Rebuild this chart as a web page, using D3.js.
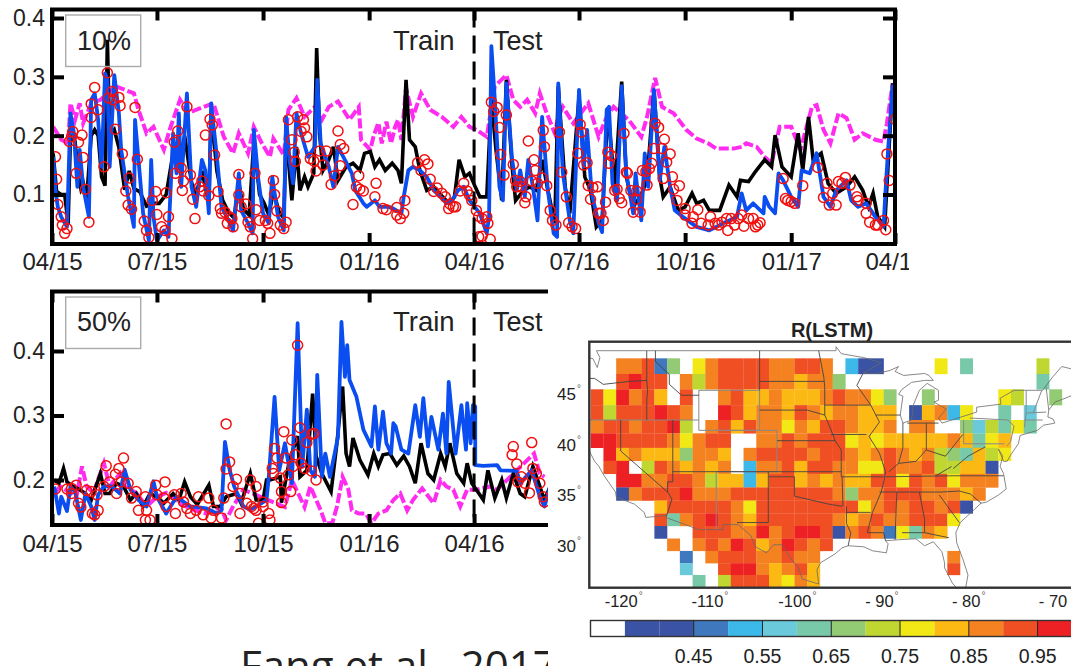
<!DOCTYPE html>
<html><head><meta charset="utf-8">
<script src="https://cdn.jsdelivr.net/npm/d3@7"></script>
<style>html,body{margin:0;padding:0;background:#fff;overflow:hidden}svg{display:block}text{font-family:"Liberation Sans",Arial,sans-serif;fill:#222}</style>
</head><body><svg id="c" width="1071" height="666"></svg>
<script>
// ---------- time-series data: [day since 04/15, value] ----------
const tickDays=[0,91,183,275,366,457,549,641,731];
const tickLabels=["04/15","07/15","10/15","01/16","04/16","07/16","10/16","01/17","04/17"];
const blueTop=[[1,.164],[3,.107],[5,.079],[8,.062],[13,.045],[16,.238],[19,.204],[22,.113],[24,.176],[27,.113],[32,.062],[34,.261],[37,.272],[40,.227],[43,.147],[46,.306],[48,.295],[50,.147],[54,.303],[58,.238],[60,.176],[66,.096],[71,.045],[72,.227],[75,.159],[79,.068],[84,.022],[86,.159],[88,.062],[91,.022],[97,.039],[101,.028],[105,.204],[108,.136],[110,.238],[112,.113],[117,.272],[121,.113],[125,.079],[130,.159],[133,.141],[136,.068],[138,.255],[143,.164],[147,.079],[153,.056],[157,.039],[162,.136],[164,.073],[170,.051],[174,.034],[175,.21],[179,.124],[183,.068],[188,.051],[191,.13],[196,.062],[201,.039],[203,.232],[206,.159],[209,.119],[212,.238],[216,.204],[222,.164],[228,.181],[230,.295],[233,.187],[240,.147],[244,.113],[248,.181],[254,.159],[260,.136],[263,.107],[270,.085],[273,.079],[280,.09],[284,.079],[292,.079],[296,.076],[303,.068],[305,.096],[309,.141],[313,.147],[319,.141],[325,.13],[331,.107],[337,.096],[342,.085],[347,.09],[352,.107],[357,.113],[362,.09],[371,.068],[377,.034],[379,.062],[381,.352],[384,.261],[388,.113],[391,.09],[394,.289],[399,.159],[403,.107],[406,.141],[410,.096],[413,.159],[417,.113],[421,.056],[425,.232],[430,.107],[435,.034],[438,.028],[439,.289],[443,.136],[449,.056],[452,.034],[457,.278],[461,.147],[464,.21],[468,.102],[474,.051],[477,.036],[481,.244],[483,.249],[486,.119],[490,.09],[494,.284],[498,.136],[504,.068],[506,.136],[511,.056],[514,.17],[517,.113],[522,.278],[527,.124],[531,.181],[536,.113],[540,.073],[547,.062],[559,.045],[570,.039],[582,.051],[594,.062],[598,.102],[602,.073],[608,.085],[617,.068],[618,.096],[622,.079],[627,.068],[630,.136],[634,.124],[641,.096],[647,.079],[650,.141],[657,.136],[663,.17],[669,.096],[675,.079],[680,.107],[689,.124],[693,.09],[699,.079],[706,.085],[714,.062],[721,.045],[723,.113],[725,.176],[729,.284],[731,.23]];
const blackTop=[[1,.17],[4,.105],[8,.1],[11,.1],[14,.05],[16,.2],[20,.19],[23,.13],[25,.11],[27,.12],[30,.09],[34,.2],[37,.21],[40,.2],[43,.13],[46,.115],[48,.363],[50,.2],[54,.21],[58,.18],[63,.108],[67,.14],[71,.11],[76,.105],[82,.08],[88,.085],[93,.085],[99,.1],[105,.17],[110,.15],[115,.2],[121,.12],[125,.1],[130,.14],[136,.085],[138,.24],[143,.14],[148,.09],[153,.07],[158,.06],[162,.12],[166,.075],[171,.065],[175,.19],[180,.1],[184,.085],[188,.065],[192,.105],[197,.07],[201,.06],[203,.204],[208,.09],[212,.181],[215,.107],[219,.13],[222,.113],[227,.136],[229.5,.349],[232,.204],[235,.141],[240,.159],[244,.181],[248,.124],[255,.147],[261,.153],[267,.141],[271,.17],[276,.173],[280,.147],[284,.159],[289,.141],[295,.153],[300,.141],[303,.119],[307,.295],[310,.193],[315,.181],[319,.141],[325,.107],[331,.113],[336,.102],[344,.085],[349,.096],[353,.159],[358,.13],[362,.136],[367,.113],[371,.096],[377,.096],[381,.261],[385,.176],[390,.09],[394,.295],[399,.147],[402,.09],[409,.107],[414,.113],[420,.107],[425,.159],[430,.107],[436,.051],[439,.284],[445,.113],[449,.068],[457,.266],[462,.13],[467,.107],[472,.045],[477,.056],[482,.244],[488,.113],[494,.292],[498,.13],[504,.079],[510,.096],[516,.124],[522,.278],[527,.13],[530,.096],[536,.113],[543,.073],[549,.079],[555,.102],[559,.085],[565,.09],[570,.073],[579,.073],[587,.116],[594,.096],[597,.124],[604,.122],[610,.139],[618,.159],[624,.147],[627,.201],[633,.147],[641,.13],[647,.204],[651,.141],[656,.232],[660,.159],[667,.17],[673,.119],[680,.102],[689,.113],[696,.13],[703,.107],[708,.079],[712,.102],[716,.062],[722,.045],[729,.289],[731,.23]];
const magentaTop=[[1,.215],[8,.193],[14,.187],[16,.255],[20,.227],[24,.255],[27,.221],[34,.255],[42,.261],[55,.284],[71,.272],[75,.244],[82,.204],[88,.215],[97,.176],[102,.21],[111,.261],[118,.238],[125,.244],[140,.255],[149,.198],[157,.17],[162,.204],[170,.17],[175,.215],[182,.187],[189,.164],[192,.195],[201,.167],[205,.244],[212,.264],[219,.232],[228,.249],[234,.227],[240,.249],[248,.258],[258,.227],[266,.249],[268,.193],[276,.176],[279,.2],[283,.222],[286,.187],[290,.224],[294,.187],[297.5,.215],[300,.227],[303,.193],[307,.281],[313,.232],[320,.272],[328,.244],[338,.232],[348,.215],[355,.232],[362,.215],[368,.21],[377,.198],[384,.284],[394,.303],[400,.261],[406,.249],[412,.261],[419,.238],[423,.272],[429,.238],[436,.204],[439,.232],[443,.249],[452,.221],[465,.255],[474,.198],[481,.232],[487,.249],[500,.227],[511,.198],[516,.232],[523,.298],[529,.249],[539,.238],[550,.21],[559,.195],[569,.187],[576,.178],[591,.178],[598,.181],[602,.187],[611,.181],[618,.164],[624,.153],[631,.215],[641,.215],[649,.176],[659,.249],[663,.252],[669,.21],[675,.187],[682,.238],[689,.23],[696,.193],[703,.204],[714,.193],[721,.19],[724,.221],[729,.289]];
const obsTop=[[3,.164],[4,.126],[5,.083],[8,.062],[9,.048],[13,.042],[11,.034],[15,.19],[18,.207],[17,.198],[23,.189],[26,.201],[21,.136],[27,.163],[29,.109],[32,.053],[34,.231],[34,.254],[37,.282],[40,.244],[45,.147],[48,.307],[49,.264],[52,.275],[53,.261],[58,.265],[59,.251],[55,.211],[61,.169],[64,.106],[67,.128],[66,.082],[69,.075],[72,.248],[74,.16],[80,.055],[82,.039],[84,.027],[87,.09],[90,.105],[91,.066],[95,.045],[98,.039],[99,.103],[101,.062],[104,.025],[106,.189],[109,.208],[107,.136],[112,.145],[114,.123],[113,.107],[120,.133],[117,.249],[122,.092],[124,.059],[130,.123],[128,.113],[131,.106],[136,.098],[133,.201],[137,.228],[139,.218],[141,.167],[144,.105],[146,.076],[147,.068],[150,.07],[152,.051],[154,.062],[156,.059],[157,.045],[162,.134],[162,.099],[164,.079],[168,.084],[170,.053],[172,.045],[174,.025],[176,.136],[177,.074],[180,.056],[185,.056],[187,.051],[189,.034],[192,.124],[193,.1],[195,.072],[198,.048],[201,.042],[203,.053],[205,.227],[208,.193],[210,.172],[211,.156],[213,.232],[216,.207],[218,.227],[219,.213],[221,.198],[224,.161],[227,.157],[229,.14],[232,.174],[235,.15],[238,.174],[242,.117],[245,.132],[248,.208],[250,.185],[253,.178],[250,.149],[261,.083],[266,.132],[264,.113],[267,.109],[270,.106],[280,.096],[281,.119],[287,.076],[290,.074],[299,.078],[299,.065],[302,.059],[305,.068],[306,.09],[317,.154],[320,.141],[323,.159],[326,.152],[328,.126],[331,.105],[334,.111],[338,.102],[341,.096],[344,.076],[345,.084],[348,.079],[350,.079],[354,.106],[357,.119],[360,.106],[362,.099],[364,.09],[368,.073],[370,.063],[370,.028],[373,.059],[377,.062],[378,.051],[373,.029],[380,.024],[381,.257],[386,.248],[383,.241],[394,.235],[388,.214],[389,.168],[400,.151],[392,.133],[402,.124],[406,.122],[403,.113],[407,.113],[413,.191],[418,.159],[419,.141],[411,.096],[410,.086],[416,.123],[421,.119],[425,.128],[429,.115],[426,.209],[427,.181],[432,.073],[434,.056],[437,.048],[440,.206],[442,.138],[446,.096],[448,.052],[451,.045],[454,.042],[456,.17],[458,.219],[459,.206],[461,.15],[464,.154],[465,.115],[469,.112],[473,.113],[467,.092],[474,.068],[476,.068],[478,.056],[480,.087],[482,.172],[485,.166],[483,.153],[488,.107],[490,.109],[492,.093],[494,.086],[496,.204],[498,.138],[499,.136],[502,.107],[507,.106],[504,.07],[507,.092],[510,.07],[512,.141],[515,.139],[518,.144],[520,.153],[516,.116],[522,.178],[523,.221],[526,.214],[529,.178],[531,.194],[530,.127],[533,.155],[536,.169],[538,.13],[539,.109],[544,.115],[542,.09],[549,.076],[549,.065],[555,.051],[556,.062],[560,.074],[563,.051],[569,.048],[571,.062],[575,.051],[578,.048],[581,.053],[585,.059],[586,.039],[589,.059],[592,.048],[595,.059],[600,.046],[598,.065],[604,.059],[608,.059],[610,.045],[612,.048],[614,.052],[634,.127],[636,.093],[638,.09],[641,.088],[644,.085],[651,.115],[664,.146],[669,.095],[672,.119],[674,.082],[677,.102],[680,.082],[682,.122],[685,.119],[688,.129],[692,.116],[698,.096],[699,.09],[706,.085],[706,.068],[709,.053],[714,.048],[716,.048],[721,.056],[723,.04],[724,.169],[726,.124],[731,.228]];
const blueBottom=[[2,.19],[6,.148],[8,.174],[13,.152],[16,.19],[20,.182],[25,.138],[29,.179],[34,.159],[37,.138],[40,.177],[45,.19],[52,.19],[59,.179],[63,.216],[68,.185],[75,.169],[82,.159],[88,.198],[91,.174],[99,.148],[108,.174],[120,.159],[134,.156],[143,.148],[147,.153],[150,.259],[154,.216],[158,.19],[166,.159],[172,.154],[179,.161],[186,.169],[188,.205],[193,.329],[197,.215],[202,.257],[208,.195],[213,.443],[217,.221],[221,.309],[224,.215],[228,.205],[230,.363],[234,.205],[237,.241],[241,.205],[248,.267],[251,.445],[254,.36],[256,.409],[258,.355],[264,.329],[270,.278],[277,.252],[280,.314],[283,.247],[287,.306],[290,.257],[294,.241],[296,.288],[298,.283],[303,.247],[309,.241],[315,.316],[319,.267],[322,.327],[326,.252],[329,.298],[335,.247],[339,.303],[342,.241],[344,.352],[350,.241],[355,.316],[359,.247],[360,.319],[363,.257],[365,.316],[367,.314],[367,.223],[374,.222],[386,.223],[389,.215],[403,.214],[406,.195],[411,.205],[416,.215],[423,.174],[427,.159],[432,.19]];
const blackBottom=[[2,.2],[6,.195],[10,.218],[13,.197],[18,.19],[24,.185],[29,.179],[34,.169],[42,.21],[46,.179],[50,.179],[56,.195],[62,.19],[68,.169],[73,.179],[79,.159],[85,.179],[91,.174],[97,.164],[105,.179],[110,.169],[115,.197],[120,.174],[126,.162],[136,.192],[140,.159],[146,.159],[151,.174],[160,.179],[164,.164],[172,.21],[177,.169],[183,.169],[186,.2],[189,.2],[198,.205],[199,.165],[206,.231],[213,.268],[215,.205],[221,.215],[226,.334],[229,.237],[234,.21],[242,.182],[247,.256],[252,.345],[255,.241],[258,.221],[261,.265],[267,.231],[274,.208],[279,.241],[283,.221],[287,.239],[293,.241],[299,.223],[305,.237],[310,.221],[315,.195],[320,.257],[326,.21],[331,.2],[337,.241],[341,.221],[345,.257],[351,.21],[357,.195],[360,.226],[364,.195],[368,.185],[374,.169],[378,.215],[384,.172],[390,.2],[394,.172],[400,.21],[406,.179],[410,.174],[417,.221],[423,.19],[427,.169],[432,.19]];
const magentaBottom=[[3,.18],[7,.19],[16,.18],[21,.172],[26,.221],[30,.19],[36,.18],[45,.226],[50,.19],[59,.21],[63,.19],[73,.18],[82,.159],[91,.174],[99,.18],[111,.164],[122,.154],[134,.148],[146,.159],[151,.138],[157,.159],[166,.185],[202,.158],[208,.2],[219,.158],[224,.19],[233,.153],[237,.133],[243,.133],[247,.158],[252,.205],[257,.185],[260,.153],[266,.148],[272,.148],[277,.133],[283,.148],[290,.153],[296,.169],[302,.179],[308,.153],[313,.169],[321,.187],[331,.164],[337,.2],[342,.19],[348,.185],[354,.159],[360,.185],[368,.185],[380,.19],[386,.185],[418,.241],[423,.21],[427,.205]];
const obsBottom=[[3,.186],[13,.186],[17,.187],[21,.192],[17,.179],[23,.164],[25,.158],[30,.184],[34,.182],[35,.148],[37,.146],[40,.153],[39,.177],[47,.222],[45,.19],[50,.197],[55,.209],[58,.218],[62,.234],[60,.197],[66,.195],[56,.179],[69,.172],[73,.182],[75,.153],[81,.174],[82,.153],[85,.138],[81,.138],[90,.192],[91,.177],[98,.197],[97,.172],[99,.159],[106,.177],[107,.148],[112,.179],[114,.166],[117,.156],[120,.148],[125,.153],[127,.174],[131,.146],[136,.172],[140,.153],[138,.141],[147,.141],[149,.172],[151,.217],[154,.228],[151,.287],[157,.19],[160,.201],[163,.148],[163,.179],[169,.164],[177,.19],[175,.156],[179,.133],[172,.2],[173,.159],[177,.153],[183,.166],[183,.159],[188,.148],[189,.138],[191,.218],[201,.275],[208,.262],[193,.249],[195,.234],[203,.234],[211,.239],[209,.221],[216,.226],[219,.218],[225,.214],[229,.2],[198,.203],[205,.208],[192,.21],[199,.182],[207,.182],[199,.165],[213,.409],[215,.281],[221,.258],[227,.272],[225,.271],[400,.252],[399,.239],[403,.225],[416,.258],[404,.197],[407,.205],[410,.195],[414,.18],[417,.218],[420,.21],[423,.195],[426,.174],[427,.166]];

// ---------- map data ----------
const paletteKeys=".DDBSCTGLYAORE".split("");
const paletteColors={".":"#ffffff",D:"#3a53a4",B:"#3f78bd",S:"#3cb9e9",C:"#6bc9dc",T:"#78c9a9",G:"#93cb75",L:"#bfd730",Y:"#f2e816",A:"#fdb913",O:"#f58220",R:"#f04e23",E:"#ed2024"};
const gridRows=[
"..OORBG.YORRRROORRO.SDD....Y.T.....L..",
"..RERR.OLORRRROOAOOG...............T..",
"RYEORA.R..ORAAOAAAOROOYG..G.....YL..G.",
"RLRRRERO..ERAOOAROAOOAAA.DAOSY..T.C...",
"ORRORREL.ORAROOYOARROAAO.OO..GCLTYT...",
"EERRRROYORR..OORORRRYAYAAAAAOATYA.....",
".EAOAAAGOOA.ORRRRORROAOROAOLGTALY.....",
".RE.LROAOAO.SOORARROOYYROORLLAAD......",
"..EEOORROLAASARRAOAOAARRYRORYOOO......",
"..DORRREOOORRRRRRRROGOORRROOOAO.......",
".....ARRRRROYRRRRRRRRYORORRORD........",
".....RTOREROARRRRRROAOROORRRY.........",
".....D..RRROOEOREERDOROBYTOA..........",
"......O.OROERAOEROR...................",
".......B.ORRROOROO..........O.........",
".......C..REEOAORA..........R.........",
"........T.LRRRAYOA...................."];
const rowLatEdges=[48.23,46.65,45.1,43.5,42,40.71,39.31,38.05,36.79,35.45,34.16,32.89,31.66,30.42,29.19,27.97,26.8,25.6];
const colLonStart=-123.456, colLonStep=1.467;
const lonLabels=["-120","-110","-100","- 90","- 80","- 70"], lonTicks=[-120,-110,-100,-90,-80,-70];
const latTicks=[45,40,35,30];
const cbarValues=[.45,.55,.65,.75,.85,.95];
const coast=[
[[-124.7,48.4],[-123.2,48.2],[-122.7,47.3],[-122.4,48.3],[-122.8,49]],
[[-124.7,48.4],[-124.1,46.9],[-124,46.2],[-124.1,44],[-124.5,42.8],[-124.2,42],[-124.1,41],[-124.4,40.3],[-123.8,39.3],[-123,38],[-122.5,37.5],[-121.9,36.6],[-120.6,35],[-120.5,34.5],[-119,34],[-118.4,33.8],[-117.3,33],[-117.1,32.5]],
[[-117.1,32.5],[-114.7,32.7],[-114.8,32.5],[-111,31.3],[-108.2,31.3],[-108.2,31.8],[-106.5,31.8],[-105,30.7],[-104.5,29.6],[-103.2,29],[-102.4,29.8],[-101.4,29.8],[-100.3,28.3],[-99.5,27.5],[-99.1,26.4],[-97.2,25.9]],
[[-97.2,25.9],[-97.4,27.3],[-97,28],[-95.3,28.9],[-94.5,29.5],[-93.8,29.7],[-92,29.6],[-91,29.2],[-89.4,29],[-89.2,29.9],[-89.5,30.2],[-88,30.3],[-86,30.4],[-85,29.7],[-84,30.1],[-83,29.1],[-82.7,28],[-82.7,27.5],[-81.8,26],[-81,25.2],[-80.3,25.4],[-80,26.8],[-80.6,28.4],[-81.3,30],[-81.4,31],[-80.9,32],[-79.5,33.1],[-78.5,33.9],[-77.9,34],[-76.5,34.7],[-75.6,35.3],[-75.9,36.8],[-76.3,37.5],[-76,38.5],[-76.5,39.2],[-75.9,38],[-75.5,38],[-75.1,38.6],[-74.2,39.7],[-74,40.5],[-72,41],[-71.3,41.5],[-70.6,41.6],[-70,41.7],[-70.2,42.1],[-70.8,42.3],[-70.7,43],[-70,43.8],[-68.5,44.3],[-67,44.9],[-67.8,45.7],[-67.8,47.1],[-69.2,47.4],[-70.2,46.4],[-71.4,45],[-74.7,45],[-76.3,44.2],[-76.2,43.6],[-79,43.3],[-79,42.8],[-83,41.7],[-83.4,42.2],[-82.5,43.1],[-83.9,43.8],[-83.4,44],[-83.4,45],[-84.7,45.7],[-85.6,45],[-86.3,43.5],[-86.5,42],[-87.5,41.7],[-87.8,42.5],[-87.5,44.4],[-88,44.6],[-87.6,45.1],[-86.5,45.8],[-85,46],[-84,46],[-84.5,46.5],[-85,46.7],[-87.4,46.5],[-88.4,46.9],[-88,47.4],[-89,47],[-90.5,46.7],[-92.1,46.7],[-90,47.8],[-92,48.3],[-94.6,48.7],[-95.2,49.4],[-95.2,49]]
];
const lightStates=[
[[-122.8,49],[-95.2,49]],
[[-111,45],[-104,45],[-104,41],[-111,41],[-111,45]],
[[-124.2,42],[-111,42]],
[[-109,41],[-102,41],[-102,37],[-109,37],[-109,31.3]],
[[-79.8,42.2],[-75.4,42],[-74.7,41.4],[-75.1,39.9],[-75.5,39.5]],
[[-80.5,42],[-80.5,39.7],[-75.8,39.7]],
[[-73.3,45],[-73.3,42.7],[-73.5,41.3]],[[-71.5,45],[-72.5,42.7]],[[-73.3,42.7],[-71,42.8]],[[-73.5,42],[-71.4,42]],[[-71,45.3],[-70.7,43]]
];
const darkStates=[
[[-124,46.2],[-123,46.2],[-122,45.6],[-119,45.9],[-117,46]],
[[-117,49],[-117,46],[-116.9,45],[-117,44],[-117,42]],
[[-120,42],[-120,39],[-114.6,35],[-114.1,34.3],[-114.7,32.7]],
[[-114,42],[-114,36],[-114.6,36],[-114.6,35]],
[[-116,49],[-116,47.9],[-114.4,46.6],[-114.4,45.6],[-113,44.5],[-111,44.5]],
[[-114,37],[-103,37]],
[[-103,37],[-103,32],[-106.6,32]],
[[-103,36.5],[-100,36.5],[-100,34.6],[-98,34.2],[-96,33.8],[-94.5,33.6]],
[[-103,37],[-94.6,37]],[[-102,40],[-95.3,40]],[[-94.6,36.5],[-94.6,39.1],[-95.3,40],[-96,41.5],[-96.5,42.5]],
[[-104,43],[-98.5,43],[-96.5,42.5]],[[-104,45.9],[-96.6,45.9]],[[-104,49],[-104,45]],
[[-97.2,49],[-96.6,46.3],[-96.5,45.3],[-96.5,42.5]],
[[-96.5,43.5],[-91.2,43.5]],[[-95.8,40.6],[-91.7,40.6]],
[[-92.1,46.7],[-92.8,45.5],[-91.2,43.5],[-90.2,41.8],[-91.4,40.4],[-90.2,38.8],[-89.5,37],[-89.7,36],[-90,35],[-91,33],[-91.6,31],[-89.7,31],[-89.5,30.2]],
[[-90.6,42.5],[-87.8,42.5]],[[-87.5,41.7],[-87.5,39.3],[-88,37.8]],
[[-89.1,37],[-88,37.8],[-86,38],[-84.8,39.1],[-82.6,38.5],[-80.6,40.6]],
[[-84.8,39.1],[-84.8,41.7]],[[-87,41.7],[-83.4,41.7]],
[[-89.5,36.5],[-81.7,36.6],[-75.9,36.6]],
[[-90.2,35],[-83.1,35],[-81,35.1],[-79.7,34.8],[-78.5,33.9]],
[[-88.2,35],[-88.4,30.3]],[[-85.6,35],[-85,32.3],[-85,31]],[[-87.6,31],[-85,31],[-82.2,30.5]],[[-83.3,34.7],[-81,32]],
[[-94,33.6],[-94,31.9],[-93.5,31],[-93.8,29.7]],[[-94.5,36.5],[-94.4,33.6]],[[-94,33],[-91.2,33]],[[-94.6,36.5],[-89.7,36.5]],
[[-81.7,37.3],[-80,38.5],[-78,39.4]],[[-83.7,36.6],[-81.9,37.5]]
];

// ---------- drawing ----------
const svg=d3.select("#c");
const x=d3.scaleLinear().domain([0,731]).range([52,895]);
const blue="#0a4df0",black="#000",magenta="#ff2cf0",red="#f01010";
const defs=svg.append("defs");
function clip(id,xx,y,w,h){defs.append("clipPath").attr("id",id).append("rect").attr("x",xx).attr("y",y).attr("width",w).attr("height",h);}

function panel(cfg){
  const y=d3.scaleLinear().domain(cfg.yDomain).range(cfg.yRange);
  const g=svg.append("g");
  clip(cfg.id,52,cfg.top,843,cfg.bottom-cfg.top);
  const plot=g.append("g").attr("clip-path",`url(#${cfg.id})`);
  const line=d3.line().x(d=>x(d[0])).y(d=>y(d[1]));
  plot.append("path").attr("d",line(cfg.magenta)).attr("fill","none").attr("stroke",magenta).attr("stroke-width",4).attr("stroke-dasharray","10 3");
  plot.append("path").attr("d",line(cfg.black)).attr("fill","none").attr("stroke",black).attr("stroke-width",3.6);
  plot.append("path").attr("d",line(cfg.blue)).attr("fill","none").attr("stroke",blue).attr("stroke-width",3.8).attr("stroke-linejoin","round");
  plot.selectAll("circle").data(cfg.obs).join("circle").attr("cx",d=>x(d[0])).attr("cy",d=>y(d[1])).attr("r",5).attr("fill","none").attr("stroke",red).attr("stroke-width",1.5);
  g.append("line").attr("x1",x(366)).attr("x2",x(366)).attr("y1",cfg.top).attr("y2",cfg.bottom).attr("stroke","#000").attr("stroke-width",3).attr("stroke-dasharray","18 8");
  g.append("rect").attr("x",52).attr("y",cfg.top).attr("width",843).attr("height",cfg.bottom-cfg.top).attr("fill","none").attr("stroke","#000").attr("stroke-width",4);
  const fmt=d=>tickLabels[tickDays.indexOf(d)];
  const style=(a,fs)=>{a.select(".domain").remove();a.selectAll("line").attr("stroke","#000").attr("stroke-width",4);a.selectAll("text").attr("font-size",fs).attr("fill","#222");};
  g.append("g").attr("transform",`translate(0,${cfg.bottom})`).call(d3.axisBottom(x).tickValues(tickDays).tickFormat(fmt).tickSize(-11).tickPadding(cfg.xPad)).call(a=>style(a,24));
  g.append("g").attr("transform",`translate(0,${cfg.top})`).call(d3.axisTop(x).tickValues(tickDays).tickFormat("").tickSize(-11)).call(a=>style(a,24));
  g.append("g").attr("transform","translate(52,0)").call(d3.axisLeft(y).tickValues(cfg.yTicks).tickFormat(d3.format(".1f")).tickSize(-12).tickPadding(7)).call(a=>style(a,23));
  g.append("g").attr("transform","translate(895,0)").call(d3.axisRight(y).tickValues(cfg.yTicks).tickFormat("").tickSize(-12)).call(a=>style(a,23));
  g.append("rect").attr("x",65.7).attr("y",cfg.top+5.5).attr("width",75).attr("height",51.5).attr("fill","#fff").attr("fill-opacity",0).attr("stroke","#aaa").attr("stroke-width",1.4);
  g.append("text").attr("x",77).attr("y",cfg.textY).attr("font-size",27).text(cfg.label);
  g.append("text").attr("x",393).attr("y",cfg.textY).attr("font-size",27.5).text("Train");
  g.append("text").attr("x",493).attr("y",cfg.textY).attr("font-size",27).text("Test");
}
panel({id:"p1",top:9.5,bottom:244,yDomain:[.1,.4],yRange:[194.5,18],yTicks:[.1,.2,.3,.4],xPad:9,textY:50,label:"10%",blue:blueTop,black:blackTop,magenta:magentaTop,obs:obsTop});
panel({id:"p2",top:291.5,bottom:525,yDomain:[.2,.4],yRange:[480,351],yTicks:[.2,.3,.4],xPad:10,textY:331,label:"50%",blue:blueBottom,black:blackBottom,magenta:magentaBottom,obs:obsBottom});

svg.append("text").attr("x",240).attr("y",681).attr("font-size",42).style("font-family","'Open Sans'").attr("fill","#111").text("Fang et al., 2017");

svg.append("rect").attr("x",548).attr("y",283).attr("width",523).attr("height",383).attr("fill","#fff");
svg.append("rect").attr("x",909).attr("y",0).attr("width",162).attr("height",283).attr("fill","#fff");

// ---------- map ----------
const lon=d3.scaleLinear().domain([-120,-80]).range([620.7,968]);
const lat=d3.scaleLinear().domain([49,42,37,31,26,20]).range([350.7,420,471.7,532.7,583,644]);
clip("m",589.3,341.7,482,246);
const map=svg.append("g").attr("clip-path","url(#m)");
const cells=[];
gridRows.forEach((row,r)=>row.split("").forEach((k,c)=>{if(k!==".")cells.push({k,r,c});}));
map.selectAll("rect.cell").data(cells).join("rect").attr("class","cell")
  .attr("x",d=>lon(colLonStart+d.c*colLonStep)).attr("y",d=>lat(rowLatEdges[d.r]))
  .attr("width",lon(colLonStep)-lon(0)+.2).attr("height",d=>lat(rowLatEdges[d.r+1])-lat(rowLatEdges[d.r])+.2)
  .attr("fill",d=>paletteColors[d.k]);
const geo=d3.line().x(d=>lon(d[0])).y(d=>lat(d[1]));
map.selectAll("path.coast").data(coast).join("path").attr("class","coast").attr("d",geo).attr("fill","none").attr("stroke","#6a6a6a").attr("stroke-width",.8);
map.selectAll("path.ls").data(lightStates).join("path").attr("class","ls").attr("d",geo).attr("fill","none").attr("stroke","#888").attr("stroke-width",1);
map.selectAll("path.ds").data(darkStates).join("path").attr("class","ds").attr("d",geo).attr("fill","none").attr("stroke","#444").attr("stroke-width",.9);
svg.append("rect").attr("x",589.3).attr("y",341.7).attr("width",500).attr("height",246).attr("fill","none").attr("stroke","#333").attr("stroke-width",2.4);
svg.append("text").attr("x",832).attr("y",337).attr("text-anchor","middle").attr("font-size",20).attr("font-weight","bold").attr("fill","#111").text("R(LSTM)");

// map tick labels, with the small degree sign as part of each text
function degree(sel,fs){sel.append("tspan").attr("font-size",fs).attr("dy",-8).attr("dx",1).attr("fill","#666").text("°");}
lonTicks.forEach((v,i)=>{
  const t=svg.append("text").attr("x",lon(v)-16).attr("y",607).attr("font-size",16.5).attr("fill","#333").text(lonLabels[i]);
  if(i<5)degree(t,10);
});
const latLab=d3.scaleLinear().domain([45,30]).range([400,552]);
latTicks.forEach(v=>{
  const t=svg.append("text").attr("x",557).attr("y",latLab(v)).attr("font-size",17).attr("fill","#333").text(v);
  degree(t,10);
});

// colour bar
const cb=d3.scaleLinear().domain([.30,1.0]).range([590.5,1072]);
const bw=cb(.35)-cb(.30);
svg.selectAll("rect.cb").data(paletteKeys).join("rect").attr("class","cb")
  .attr("x",(d,i)=>cb(.30)+i*bw).attr("y",620.5).attr("width",bw).attr("height",16).attr("fill",d=>paletteColors[d]);
svg.append("rect").attr("x",590.5).attr("y",620.5).attr("width",500).attr("height",16).attr("fill","none").attr("stroke","#333").attr("stroke-width",1.4);
svg.selectAll("line.cbl").data(cbarValues).join("line").attr("class","cbl").attr("x1",d=>cb(d)).attr("x2",d=>cb(d)).attr("y1",620.5).attr("y2",636.5).attr("stroke","#222").attr("stroke-width",1);
svg.selectAll("text.cbt").data(cbarValues).join("text").attr("class","cbt").attr("x",d=>cb(d)).attr("y",663).attr("text-anchor","middle").attr("font-size",19.5).attr("fill","#333").text(d=>d.toFixed(2));
</script></body></html>
